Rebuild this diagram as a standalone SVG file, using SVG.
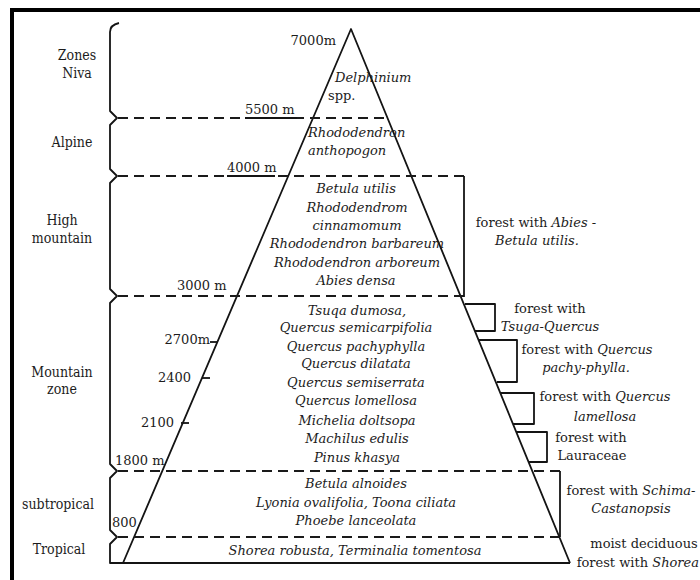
<svg xmlns="http://www.w3.org/2000/svg" width="700" height="580" viewBox="0 0 700 580">
  <style>
    .ln { fill: none; stroke: #141414; stroke-width: 1.8; stroke-linejoin: round; }
    .dash { fill: none; stroke: #1a1a1a; stroke-width: 1.8; stroke-dasharray: 10 6; }
    text { font-family: 'DejaVu Serif', serif; font-size: 13px; fill: #1c1c1c; }
    .i { font-style: italic; }
    .m { text-anchor: middle; }
    .e { text-anchor: end; }
    .cz { font-family: 'DejaVu Serif Condensed', 'DejaVu Serif', serif; font-size: 14px; }
  </style>

  <rect width="700" height="580" fill="#ffffff"/>
  <!-- page frame -->
  <rect x="12" y="10" width="720" height="620" fill="none" stroke="#000" stroke-width="4"/>

  <!-- altitude brace on the left, closing into the base line -->
  <g id="zone-brace">
    <path class="ln" d="M 119 23 Q 110 25 110 32 L 110 111 L 117 118 L 110 125 L 110 169 L 117 176 L 110 183 L 110 289 L 117 296 L 110 303 L 110 464 L 117 471 L 110 478 L 110 530 L 117 537 L 110 544 L 110 563 L 570 563"/>
  </g>

  <!-- mountain profile -->
  <g id="peak">
    <path class="ln" d="M 123 563 L 351 29 L 570 563"/>
  </g>

  <!-- altitude boundaries and forest brackets -->
  <g id="connectors">
    <line class="dash" x1="118" y1="118" x2="388" y2="118"/>
    <line class="ln" x1="245" y1="118" x2="297" y2="118"/>
    <line class="dash" x1="118" y1="176" x2="464" y2="176"/>
    <line class="ln" x1="227" y1="176" x2="275" y2="176"/>
    <line class="dash" x1="118" y1="296" x2="464" y2="296"/>
    <line class="dash" x1="118" y1="471" x2="560" y2="471"/>
    <line class="dash" x1="118" y1="537" x2="560" y2="537"/>
    <!-- closing verticals of the dashed bands -->
    <line class="ln" x1="464" y1="176" x2="464" y2="297"/>
    <line class="ln" x1="560" y1="471" x2="560" y2="537"/>
    <!-- altitude ticks on the slope -->
    <line class="ln" x1="210" y1="342" x2="218" y2="342"/>
    <line class="ln" x1="202" y1="378" x2="210" y2="378"/>
    <line class="ln" x1="181" y1="423" x2="189" y2="423"/>
    <!-- forest brackets -->
    <path class="ln" d="M 465 304 L 495 304 L 495 331 L 475 331"/>
    <path class="ln" d="M 479 340 L 517 340 L 517 382 L 497 382"/>
    <path class="ln" d="M 500 393 L 534 393 L 534 424 L 513 424"/>
    <path class="ln" d="M 516 432 L 547 432 L 547 462 L 528 462"/>
  </g>

  <!-- zone names -->
  <g id="zone-niva"><text class="m cz" x="77" y="60">Zones</text><text class="m cz" x="77" y="78">Niva</text></g>
  <g id="zone-alpine"><text class="m cz" x="72" y="147">Alpine</text></g>
  <g id="zone-high"><text class="m cz" x="62" y="225">High</text><text class="m cz" x="62" y="243">mountain</text></g>
  <g id="zone-mountain"><text class="m cz" x="62" y="377">Mountain</text><text class="m cz" x="62" y="394">zone</text></g>
  <g id="zone-subtropical"><text class="m cz" x="58" y="509">subtropical</text></g>
  <g id="zone-tropical"><text class="m cz" x="59" y="554">Tropical</text></g>

  <!-- altitude marks -->
  <g id="altitudes">
    <text class="e" x="336" y="45">7000m</text>
    <text x="245" y="114">5500 m</text>
    <text x="227" y="172">4000 m</text>
    <text x="177" y="290">3000 m</text>
    <text class="e" x="210" y="344">2700m</text>
    <text class="e" x="191" y="382">2400</text>
    <text class="e" x="174" y="427">2100</text>
    <text x="115" y="465">1800 m</text>
    <text x="112" y="527">800</text>
  </g>

  <!-- vegetation inside the bands -->
  <g id="band-niva">
    <text class="i" x="335" y="82">Delphinium</text>
    <text x="328" y="100">spp.</text>
  </g>
  <g id="band-alpine">
    <text class="i" x="308" y="137">Rhododendron</text>
    <text class="i" x="308" y="155">anthopogon</text>
  </g>
  <g id="band-high">
    <text class="i m" x="356" y="193">Betula utilis</text>
    <text class="i m" x="357" y="212">Rhododendrom</text>
    <text class="i m" x="357" y="230">cinnamomum</text>
    <text class="i m" x="357" y="248">Rhododendron barbareum</text>
    <text class="i m" x="357" y="267">Rhododendron arboreum</text>
    <text class="i m" x="356" y="285">Abies densa</text>
  </g>
  <g id="band-mountain">
    <text class="i m" x="357" y="315">Tsuqa dumosa,</text>
    <text class="i m" x="356" y="332">Quercus semicarpifolia</text>
    <text class="i m" x="356" y="351">Quercus pachyphylla</text>
    <text class="i m" x="356" y="368">Quercus dilatata</text>
    <text class="i m" x="356" y="387">Quercus semiserrata</text>
    <text class="i m" x="356" y="405">Quercus lomellosa</text>
    <text class="i m" x="357" y="425">Michelia doltsopa</text>
    <text class="i m" x="357" y="443">Machilus edulis</text>
    <text class="i m" x="357" y="462">Pinus khasya</text>
  </g>
  <g id="band-subtropical">
    <text class="i m" x="356" y="488">Betula alnoides</text>
    <text class="i m" x="356" y="507">Lyonia ovalifolia, Toona ciliata</text>
    <text class="i m" x="356" y="525">Phoebe lanceolata</text>
  </g>
  <g id="band-tropical">
    <text class="i m" x="355" y="555">Shorea robusta, Terminalia tomentosa</text>
  </g>

  <!-- forest types on the right -->
  <g id="forest-abies">
    <text class="m" x="536" y="227">forest with <tspan class="i">Abies</tspan> -</text>
    <text class="i m" x="537" y="245">Betula utilis.</text>
  </g>
  <g id="forest-tsuga">
    <text class="m" x="550" y="313">forest with</text>
    <text class="i m" x="550" y="331">Tsuga-Quercus</text>
  </g>
  <g id="forest-pachyphylla">
    <text class="m" x="587" y="354">forest with <tspan class="i">Quercus</tspan></text>
    <text class="i m" x="586" y="372">pachy-phylla.</text>
  </g>
  <g id="forest-lamellosa">
    <text class="m" x="605" y="401">forest with <tspan class="i">Quercus</tspan></text>
    <text class="i m" x="605" y="421">lamellosa</text>
  </g>
  <g id="forest-lauraceae">
    <text class="m" x="591" y="442">forest with</text>
    <text class="m" x="592" y="460">Lauraceae</text>
  </g>
  <g id="forest-schima">
    <text class="m" x="631" y="495">forest with <tspan class="i">Schima-</tspan></text>
    <text class="i m" x="631" y="513">Castanopsis</text>
  </g>
  <g id="forest-shorea">
    <text class="m" x="644" y="548">moist deciduous</text>
    <text class="e" x="699" y="567">forest with <tspan class="i">Shorea</tspan></text>
  </g>
</svg>
